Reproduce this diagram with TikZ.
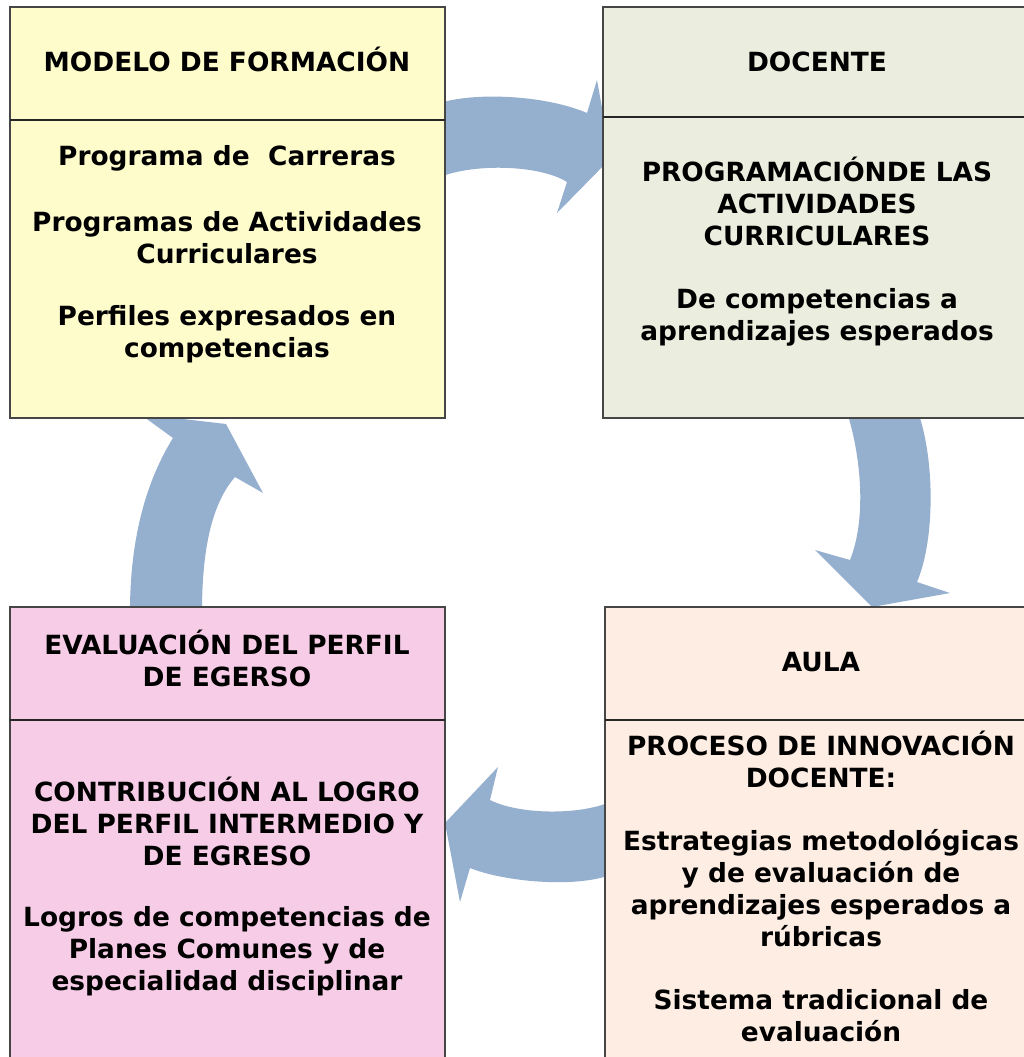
\documentclass[tikz,border=0pt]{standalone}
\usepackage{fontspec}
\setmainfont{DejaVu Sans}
\definecolor{arrowblue}{RGB}{149,175,207}
\definecolor{ylwbox}{RGB}{255,252,204}
\definecolor{grnbox}{RGB}{235,238,222}
\definecolor{pchbox}{RGB}{253,237,227}
\definecolor{pnkbox}{RGB}{246,204,230}
\definecolor{frame}{RGB}{70,70,70}
\begin{document}
\begin{tikzpicture}[x=0.75pt,y=-0.75pt,
  txt/.style={font=\fontsize{19.8}{24}\selectfont\bfseries, align=center, text=black, inner sep=0pt},
  boxframe/.style={draw=frame, line width=1.6pt},
  divider/.style={draw=black!85, line width=1.3pt},
  blockarrow/.style={fill=arrowblue, draw=none}]
\clip (0,0) rectangle (1024,1057);
\fill[white] (0,0) rectangle (1024,1057);

% block arrows (drawn first, boxes cover their ends)
\path[blockarrow] (440,103) .. controls (475,92) and (545,95) .. (587,113)
  -- (597,80) -- (611,158) -- (557,213) -- (567,182)
  .. controls (540,165) and (475,163) .. (440,177) -- cycle;
\path[blockarrow] (847,412) .. controls (862,460) and (866,520) .. (850,560)
  -- (815,550) -- (872,607) -- (950,593) -- (917,582)
  .. controls (935,540) and (935,460) .. (918,412) -- cycle;
\path[blockarrow] (610,802) .. controls (580,815) and (520,815) .. (490,800)
  -- (498,767) -- (445,823) -- (460,902) -- (470,868)
  .. controls (505,882) and (575,888) .. (610,875) -- cycle;
\path[blockarrow] (130,612) .. controls (130,530) and (150,475) .. (173,438)
  -- (140,414) -- (226,424) -- (263,493) -- (235,477)
  .. controls (215,500) and (202,540) .. (202,612) -- cycle;

% boxes
\path[boxframe, fill=ylwbox] (10,7) rectangle (445,418);
\draw[divider] (10,120) -- (445,120);
\path[boxframe, fill=grnbox] (603,7) rectangle (1031,418);
\draw[divider] (603,117) -- (1031,117);
\path[boxframe, fill=pchbox] (605,607) rectangle (1037,1070);
\draw[divider] (605,720) -- (1037,720);
\path[boxframe, fill=pnkbox] (10,607) rectangle (445,1070);
\draw[divider] (10,720) -- (445,720);

% texts
\node[txt] (h1) at (227,59) {MODELO DE FORMACIÓN};
\node[txt] (b1a) at (227,158) {Programa de\ \ Carreras};
\node[txt] (b1b) at (227,238) {Programas de Actividades\\Curriculares};
\node[txt] (b1c) at (227,334) {Perfiles expresados en\\competencias};

\node[txt] (h2) at (817,62) {DOCENTE};
\node[txt] (b2a) at (817,201.5) {PROGRAMACIÓNDE LAS\\ACTIVIDADES\\CURRICULARES};
\node[txt] (b2b) at (817,317) {De competencias a\\aprendizajes esperados};

\node[txt] (h3) at (821,662) {AULA};
\node[txt] (b3a) at (821,759.5) {PROCESO DE INNOVACIÓN\\DOCENTE:};
\node[txt] (b3b) at (821,888) {Estrategias metodológicas\\y de evaluación de\\aprendizajes esperados a\\rúbricas};
\node[txt] (b3c) at (821,1016) {Sistema tradicional de\\evaluación};

\node[txt] (h4) at (227,658) {EVALUACIÓN DEL PERFIL\\DE EGERSO};
\node[txt] (b4a) at (227,821) {CONTRIBUCIÓN AL LOGRO\\DEL PERFIL INTERMEDIO Y\\DE EGRESO};
\node[txt] (b4b) at (227,951) {Logros de competencias de\\Planes Comunes y de\\especialidad disciplinar};
\end{tikzpicture}
\end{document}
